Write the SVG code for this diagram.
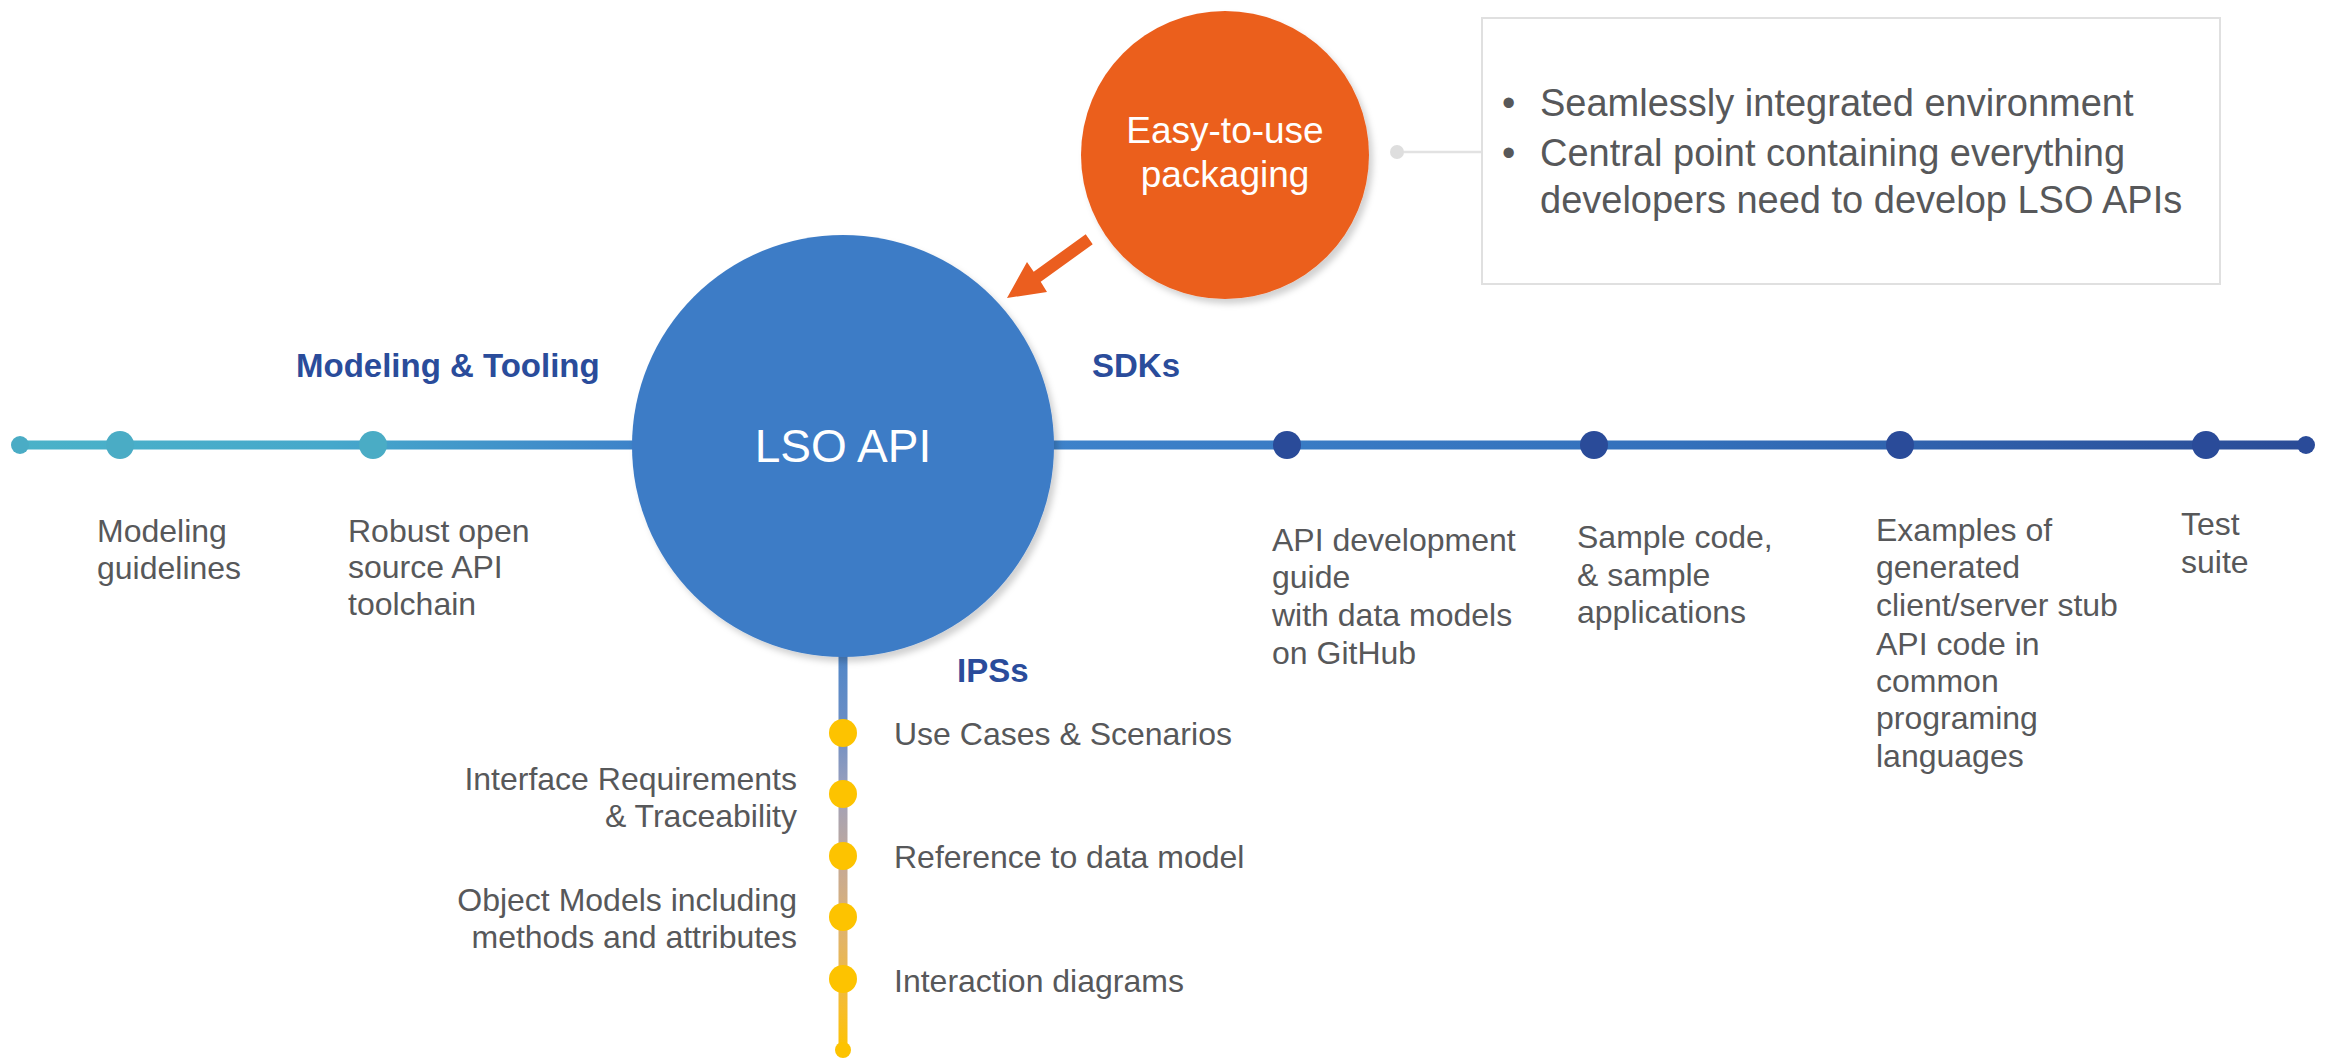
<svg xmlns="http://www.w3.org/2000/svg" width="2328" height="1059" viewBox="0 0 2328 1059">
<defs>
<style>
.lbl{font-family:"Liberation Sans",Arial,sans-serif;font-size:32px;fill:#57585a}
.hd{font-family:"Liberation Sans",Arial,sans-serif;font-size:33px;font-weight:bold;fill:#2a4c9b}
.box{font-family:"Liberation Sans",Arial,sans-serif;font-size:38px;fill:#57585a}
.wt{font-family:"Liberation Sans",Arial,sans-serif;fill:#ffffff}
.tdot{fill:#4aacc5}
.bdot{fill:#2a4b99}
.ydot{fill:#fdc300}
</style>
<linearGradient id="gl" x1="20" y1="0" x2="640" y2="0" gradientUnits="userSpaceOnUse">
<stop offset="0" stop-color="#4ab2c8"/><stop offset="0.5" stop-color="#46a8cb"/><stop offset="1" stop-color="#3d82c9"/>
</linearGradient>
<linearGradient id="gr" x1="1050" y1="0" x2="2308" y2="0" gradientUnits="userSpaceOnUse">
<stop offset="0" stop-color="#3d82ca"/><stop offset="0.5" stop-color="#3370bb"/><stop offset="1" stop-color="#2a4b96"/>
</linearGradient>
<linearGradient id="gv" x1="0" y1="655" x2="0" y2="1050" gradientUnits="userSpaceOnUse">
<stop offset="0" stop-color="#4f86c8"/><stop offset="0.2" stop-color="#6f8fc4"/><stop offset="0.35" stop-color="#9ea1bb"/><stop offset="0.55" stop-color="#c8aa92"/><stop offset="0.72" stop-color="#e2b468"/><stop offset="0.9" stop-color="#f7bd2a"/><stop offset="1" stop-color="#fdc300"/>
</linearGradient>
<filter id="sh" x="-10%" y="-10%" width="130%" height="130%">
<feDropShadow dx="4" dy="5" stdDeviation="3" flood-color="#000" flood-opacity="0.18"/>
</filter>
</defs>
<rect width="2328" height="1059" fill="#ffffff"/>

<g id="connectors">
<line x1="20" y1="445" x2="640" y2="445" stroke="url(#gl)" stroke-width="9"/>
<line x1="1045" y1="445" x2="2308" y2="445" stroke="url(#gr)" stroke-width="9"/>
<line x1="843" y1="650" x2="843" y2="1050" stroke="url(#gv)" stroke-width="9"/>
<line x1="1397" y1="152" x2="1482" y2="152" stroke="#e2e2e2" stroke-width="2.5"/>
<circle cx="1397" cy="152" r="7" fill="#dedede"/>
<polygon points="1085.7,234.3 1092.7,244.3 1040.7,281.7 1047,292 1007,298 1027,262 1033.7,271.7" fill="#eb5e1f"/>
</g>

<g id="node-lso-api">
<circle cx="843" cy="446" r="211" fill="#3e7cc6" filter="url(#sh)"/>
<text class="wt" x="843" y="462" font-size="46" text-anchor="middle">LSO API</text>
</g>

<g id="node-packaging">
<circle cx="1225" cy="155" r="144" fill="#eb5e1f" filter="url(#sh)"/>
<text class="wt" x="1225" y="143" font-size="37" text-anchor="middle">Easy-to-use</text>
<text class="wt" x="1225" y="187" font-size="37" text-anchor="middle">packaging</text>
</g>

<g id="node-box">
<rect x="1482" y="18" width="738" height="266" fill="#ffffff" stroke="#e0e0e0" stroke-width="2"/>
<text class="box" x="1502" y="116">•</text>
<text class="box" x="1540" y="116">Seamlessly integrated environment</text>
<text class="box" x="1502" y="166">•</text>
<text class="box" x="1540" y="166">Central point containing everything</text>
<text class="box" x="1540" y="213">developers need to develop LSO APIs</text>
</g>

<g id="node-modeling">
<text class="hd" x="296" y="377">Modeling &amp; Tooling</text>
<circle class="tdot" cx="20" cy="445" r="9"/>
<circle class="tdot" cx="120" cy="445" r="14"/>
<circle class="tdot" cx="373" cy="445" r="14"/>
<text class="lbl" x="97" y="542">Modeling</text>
<text class="lbl" x="97" y="579">guidelines</text>
<text class="lbl" x="348" y="542">Robust open</text>
<text class="lbl" x="348" y="578">source API</text>
<text class="lbl" x="348" y="615">toolchain</text>
</g>

<g id="node-sdks">
<text class="hd" x="1092" y="377">SDKs</text>
<circle class="bdot" cx="1287" cy="445" r="14"/>
<circle class="bdot" cx="1594" cy="445" r="14"/>
<circle class="bdot" cx="1900" cy="445" r="14"/>
<circle class="bdot" cx="2206" cy="445" r="14"/>
<circle class="bdot" cx="2306" cy="445" r="9"/>
<text class="lbl" x="1272" y="551">API development</text>
<text class="lbl" x="1272" y="588">guide</text>
<text class="lbl" x="1272" y="626">with data models</text>
<text class="lbl" x="1272" y="664">on GitHub</text>
<text class="lbl" x="1577" y="548">Sample code,</text>
<text class="lbl" x="1577" y="586">&amp; sample</text>
<text class="lbl" x="1577" y="623">applications</text>
<text class="lbl" x="1876" y="541">Examples of</text>
<text class="lbl" x="1876" y="578">generated</text>
<text class="lbl" x="1876" y="616">client/server stub</text>
<text class="lbl" x="1876" y="655">API code in</text>
<text class="lbl" x="1876" y="692">common</text>
<text class="lbl" x="1876" y="729">programing</text>
<text class="lbl" x="1876" y="767">languages</text>
<text class="lbl" x="2181" y="535">Test</text>
<text class="lbl" x="2181" y="573">suite</text>
</g>

<g id="node-ipss">
<text class="hd" x="957" y="682">IPSs</text>
<circle class="ydot" cx="843" cy="733" r="14"/>
<circle class="ydot" cx="843" cy="794" r="14"/>
<circle class="ydot" cx="843" cy="856" r="14"/>
<circle class="ydot" cx="843" cy="917" r="14"/>
<circle class="ydot" cx="843" cy="979" r="14"/>
<circle class="ydot" cx="843" cy="1050" r="8"/>
<text class="lbl" x="894" y="745">Use Cases &amp; Scenarios</text>
<text class="lbl" x="894" y="868">Reference to data model</text>
<text class="lbl" x="894" y="992">Interaction diagrams</text>
<text class="lbl" x="797" y="790" text-anchor="end">Interface Requirements</text>
<text class="lbl" x="797" y="827" text-anchor="end">&amp; Traceability</text>
<text class="lbl" x="797" y="911" text-anchor="end">Object Models including</text>
<text class="lbl" x="797" y="948" text-anchor="end">methods and attributes</text>
</g>
</svg>
